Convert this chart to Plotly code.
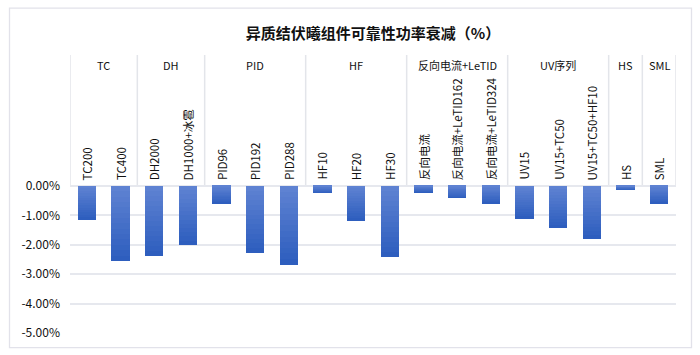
import plotly.graph_objects as go

title = "异质结伏曦组件可靠性功率衰减（%）"
groups = ["TC", "DH", "PID", "HF", "反向电流+LeTID", "UV序列", "HS", "SML"]
group_sizes = [2, 2, 3, 3, 3, 3, 1, 1]
categories = ["TC200", "TC400", "DH2000", "DH1000+冰雹", "PID96", "PID192", "PID288",
              "HF10", "HF20", "HF30", "反向电流", "反向电流+LeTID162", "反向电流+LeTID324",
              "UV15", "UV15+TC50", "UV15+TC50+HF10", "HS", "SML"]
values = [-1.15, -2.55, -2.38, -2.00, -0.60, -2.28, -2.68,
          -0.25, -1.18, -2.42, -0.24, -0.42, -0.60,
          -1.11, -1.42, -1.79, -0.15, -0.60]
y_ticks = [0, -1, -2, -3, -4, -5]
y_tick_text = ["0.00%", "-1.00%", "-2.00%", "-3.00%", "-4.00%", "-5.00%"]

FONT = "Noto Sans CJK SC"
n = len(categories)
xs = list(range(n))
YTOP = 4.45

fig = go.Figure()
# gradient bars: dark full bar first, lighter shorter bars on top
steps = 14
dark = (46, 94, 190)
light = (94, 130, 210)
for k in range(steps):
    f = 1 - k / steps
    t = k / (steps - 1)
    c = tuple(round(dark[i] + (light[i] - dark[i]) * t) for i in range(3))
    fig.add_trace(go.Bar(
        x=xs, y=[v * f for v in values], width=0.54,
        marker=dict(color="rgb(%d,%d,%d)" % c, line=dict(width=0)),
        hoverinfo="skip" if k else None, showlegend=False,
    ))

shapes = []
annotations = []
# group separators
start = 0
bounds = [-0.5]
for g, s in zip(groups, group_sizes):
    center = start + (s - 1) / 2
    annotations.append(dict(x=center, y=4.12, xref="x", yref="y", text=g, showarrow=False,
                            font=dict(size=11, color="#111", family=FONT)))
    start += s
    bounds.append(start - 0.5)
for b in bounds:
    shapes.append(dict(type="line", xref="x", yref="y", x0=b, x1=b, y0=0, y1=YTOP + 0.07,
                       line=dict(color="#e3e5ea", width=1.5), layer="below"))
for i, c in enumerate(categories):
    annotations.append(dict(x=i, y=0.13, xref="x", yref="y", text=c, showarrow=False,
                            textangle=-90, yanchor="bottom", xanchor="center",
                            font=dict(size=11.5, color="#111", family=FONT)))
# outer border
shapes.append(dict(type="rect", xref="paper", yref="paper",
                   x0=(9.5 - 70) / 606, x1=(691.5 - 70) / 606,
                   y0=(333 - 347.5) / 276, y1=(333 - 10.5) / 276,
                   line=dict(color="#e2e2ea", width=1.3), fillcolor="rgba(0,0,0,0)", layer="below"))

fig.update_layout(
    width=700, height=355,
    margin=dict(l=70, r=24, t=55, b=22),
    paper_bgcolor="white", plot_bgcolor="white",
    barmode="overlay", bargap=0,
    title=dict(text="<b>" + title + "</b>", x=0.5, xref="paper", y=0.905, yanchor="middle",
               font=dict(size=15, color="#111", family=FONT)),
    xaxis=dict(range=[-0.5, n - 0.5], showticklabels=False, showgrid=False, zeroline=False,
               fixedrange=True),
    yaxis=dict(range=[-5, YTOP], tickvals=y_ticks, ticktext=y_tick_text,
               showgrid=True, gridcolor="#e6e8ee", gridwidth=1.5, zeroline=False,
               ticklabelstandoff=9,
               tickfont=dict(size=12, color="#111", family=FONT)),
    shapes=shapes, annotations=annotations,
    font=dict(family=FONT),
)

fig.write_html("out.html")
